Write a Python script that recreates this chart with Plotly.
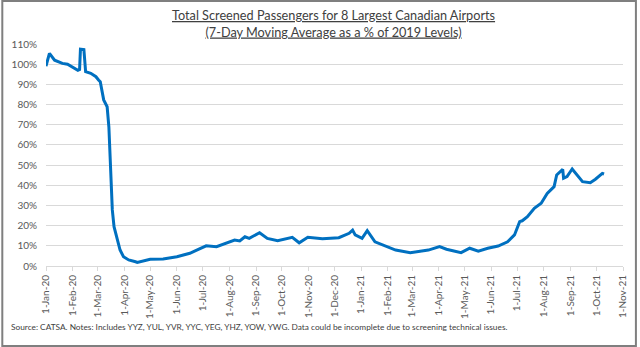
import plotly.graph_objects as go

dates = [
    "2020-01-01", "2020-01-05", "2020-01-11", "2020-01-16", "2020-01-20", "2020-01-26",
    "2020-02-03", "2020-02-07", "2020-02-09", "2020-02-10", "2020-02-14", "2020-02-16",
    "2020-02-22", "2020-02-28", "2020-03-02", "2020-03-04", "2020-03-08", "2020-03-12",
    "2020-03-14", "2020-03-16", "2020-03-18", "2020-03-20", "2020-03-24", "2020-03-27",
    "2020-03-31", "2020-04-06", "2020-04-14", "2020-04-16", "2020-05-01", "2020-05-16",
    "2020-06-01", "2020-06-16", "2020-06-24", "2020-07-05", "2020-07-17", "2020-08-01",
    "2020-08-07", "2020-08-13", "2020-08-19", "2020-08-24", "2020-09-05", "2020-09-14",
    "2020-09-26", "2020-10-13", "2020-10-21", "2020-10-31", "2020-11-17", "2020-12-06",
    "2020-12-18", "2020-12-22", "2020-12-25", "2021-01-02", "2021-01-08", "2021-01-17",
    "2021-02-10", "2021-02-27", "2021-03-20", "2021-04-02", "2021-04-10", "2021-04-27",
    "2021-05-07", "2021-05-17", "2021-05-28", "2021-06-09", "2021-06-20", "2021-06-28",
    "2021-07-04", "2021-07-07", "2021-07-13", "2021-07-21", "2021-07-29", "2021-08-05",
    "2021-08-13", "2021-08-16", "2021-08-23", "2021-08-24", "2021-08-28", "2021-09-03",
    "2021-09-09", "2021-09-15", "2021-09-24", "2021-09-30", "2021-10-08", "2021-10-10",
]
pct_of_2019 = [
    99.0, 105.4, 102.0, 101.2, 100.4, 100.0,
    98.0, 97.0, 97.4, 107.4, 107.2, 96.3,
    95.5, 93.8, 92.2, 91.3, 82.3, 78.9,
    69.0, 44.3, 27.8, 19.5, 12.0, 7.9,
    4.6, 3.0, 2.1, 1.8, 3.3, 3.5,
    4.6, 6.3, 7.9, 10.0, 9.6, 12.0,
    12.9, 12.4, 14.5, 13.7, 16.5, 13.7,
    12.5, 14.2, 11.5, 14.2, 13.5, 14.0,
    16.2, 17.8, 15.4, 13.7, 17.5, 12.0,
    7.9, 6.6, 7.9, 9.6, 8.3, 6.6,
    8.8, 7.4, 8.8, 9.9, 12.0, 15.4,
    22.0, 22.4, 24.4, 28.6, 31.1, 36.0,
    39.3, 45.1, 47.9, 43.5, 44.3, 48.1,
    45.1, 41.8, 41.3, 43.0, 45.9, 45.6,
]

title_text = ("Total Screened Passengers for 8 Largest Canadian Airports<br>"
              "(7-Day Moving Average as a % of 2019 Levels)")
source_text = ("Source: CATSA. Notes: Includes YYZ, YUL, YVR, YYC, YEG, YHZ, YOW, YWG. "
               "Data could be incomplete due to screening technical issues.")

W, H = 640, 347
ML, MR, MT, MB = 45, 14, 44, 81
PW, PH = W - ML - MR, H - MT - MB

def px_x(px):
    return (px - ML) / PW

def px_y(py):
    return (H - MB - py) / PH

FONT = "Lato"

fig = go.Figure()
fig.add_trace(go.Scatter(
    x=dates, y=pct_of_2019, mode="lines",
    line=dict(color="#0070C0", width=3),
    hoverinfo="skip", showlegend=False,
))

fig.update_layout(
    width=W, height=H,
    margin=dict(l=ML, r=MR, t=MT, b=MB, pad=0),
    paper_bgcolor="white", plot_bgcolor="white",
    font=dict(family=FONT, color="#595959", size=10),
    xaxis=dict(
        type="date", range=["2020-01-01", "2021-11-01"],
        tick0="2020-01-01", dtick="M1", tickformat="%-d-%b-%y",
        tickangle=-90, ticks="outside", ticklen=4, tickcolor="#d9d9d9",
        showgrid=False, showline=True, linecolor="#d9d9d9", linewidth=1,
        zeroline=False, tickfont=dict(size=10, color="#595959"),
    ),
    yaxis=dict(
        range=[0, 110], dtick=10, tick0=0, ticksuffix="%",
        showgrid=True, gridcolor="#d9d9d9", gridwidth=1,
        zeroline=False, showline=False, ticks="",
        ticklabelstandoff=8, tickfont=dict(size=10, color="#595959"),
    ),
    shapes=[dict(
        type="rect", xref="paper", yref="paper",
        x0=px_x(1), x1=px_x(639), y0=px_y(346), y1=px_y(1),
        line=dict(color="#7f7f7f", width=2), fillcolor="rgba(0,0,0,0)", layer="above",
    )],
    annotations=[
        dict(
            text=title_text, xref="paper", yref="paper",
            x=px_x(334), y=px_y(5), xanchor="center", yanchor="top",
            showarrow=False, align="center",
            font=dict(family=FONT, size=12.7, color="#404040", lineposition="under"),
        ),
        dict(
            text=source_text, xref="paper", yref="paper",
            x=px_x(8), y=px_y(327), xanchor="left", yanchor="middle",
            showarrow=False, font=dict(family=FONT, size=8.3, color="#404040"),
        ),
    ],
)

fig.write_html("out.html")
